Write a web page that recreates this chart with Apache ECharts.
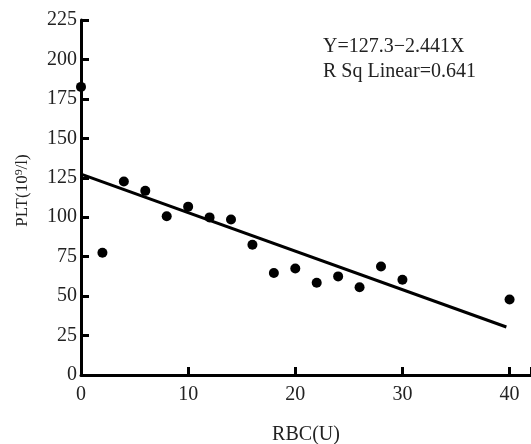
<!DOCTYPE html>
<html><head><meta charset="utf-8">
<script src="https://cdn.jsdelivr.net/npm/echarts@6/dist/echarts.min.js"></script>
<style>html,body{margin:0;padding:0;background:#fff}#c{width:531px;height:444px}</style>
</head><body><div id="c"></div>
<script>
const rbc = [0, 2, 4, 6, 8, 10, 12, 14, 16, 18, 20, 22, 24, 26, 28, 30, 40];
const plt = [182.6, 77.5, 122.6, 116.7, 100.6, 106.7, 99.9, 98.6, 82.5, 64.6, 67.5, 58.5, 62.5, 55.6, 68.8, 60.4, 47.8];
const fitLine = [[0, 127.3], [39.7, 30.4]];
const xTicks = [0, 10, 20, 30, 40];
const yTicks = [0, 25, 50, 75, 100, 125, 150, 175, 200, 225];
const equationText = ['Y=127.3\u22122.441X', 'R Sq Linear=0.641'];

const font = '"Liberation Serif", "DejaVu Serif", serif';
const chart = echarts.init(document.getElementById('c'));
chart.setOption({
  animation: false,
  grid: { left: 81, right: 0, top: 20, bottom: 69, containLabel: false, outerBoundsMode: 'none' },
  xAxis: {
    type: 'value', min: 0, max: 42, interval: 10,
    name: 'RBC(U)', nameLocation: 'middle', nameGap: 50,
    nameTextStyle: { fontFamily: font, fontSize: 20, color: '#222' },
    axisLine: { show: true, onZero: false, lineStyle: { color: '#000', width: 3 } },
    axisTick: { show: true, inside: true, length: 8, lineStyle: { color: '#000', width: 3 } },
    axisLabel: { fontFamily: font, fontSize: 20, color: '#222', margin: 10,
      formatter: v => xTicks.includes(v) ? String(v) : '' },
    splitLine: { show: false }
  },
  yAxis: {
    type: 'value', min: 0, max: 225, interval: 25,
    name: 'PLT(10\u2079/l)', nameLocation: 'middle', nameGap: 50,
    nameTextStyle: { fontFamily: font, fontSize: 17, color: '#222', padding: [0, 0, 0, 14] },
    axisLine: { show: true, onZero: false, lineStyle: { color: '#000', width: 3 } },
    axisTick: { show: true, inside: true, length: 8, lineStyle: { color: '#000', width: 3 } },
    axisLabel: { fontFamily: font, fontSize: 20, color: '#222', margin: 4,
      formatter: v => yTicks.includes(v) ? String(v) : '' },
    splitLine: { show: false }
  },
  graphic: [{
    type: 'text', left: 323, top: 34,
    style: { text: equationText.join('\n'), fontFamily: font, fontSize: 20, lineHeight: 25, fill: '#222' }
  }],
  series: [
    {
      type: 'line', data: fitLine, showSymbol: false, symbol: 'none',
      lineStyle: { color: '#000', width: 3 }, z: 2
    },
    {
      type: 'scatter', data: rbc.map((x, i) => [x, plt[i]]),
      symbol: 'circle', symbolSize: 10, itemStyle: { color: '#000', opacity: 1 }, z: 3
    }
  ]
});
</script></body></html>
